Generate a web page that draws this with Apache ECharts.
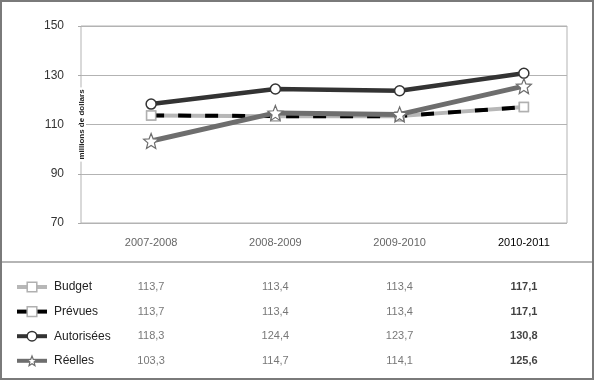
<!DOCTYPE html>
<html><head><meta charset="utf-8">
<script src="https://cdn.jsdelivr.net/npm/echarts@6/dist/echarts.min.js"></script>
<style>html,body{margin:0;padding:0;background:#fff}#c{width:595px;height:381px}</style>
</head><body><div id="c"></div>
<script>
// ---- data ----
const categories = ['2007-2008', '2008-2009', '2009-2010', '2010-2011'];
const seriesNames = ['Budget', 'Prévues', 'Autorisées', 'Réelles'];
const budget = [113.7, 113.4, 113.4, 117.1];
const prevues = [113.7, 113.4, 113.4, 117.1];
const autorisees = [118.3, 124.4, 123.7, 130.8];
const reelles = [103.3, 114.7, 114.1, 125.6];
const yMin = 70, yMax = 150, yStep = 20;
const yName = 'millions de dollars';

// ---- build ----
const FONT = '"Liberation Sans", Arial, sans-serif';
const STAR = 'path://M50,0L62.9,32.2L97.6,34.5L70.9,56.8L79.4,90.5L50,72L20.6,90.5L29.1,56.8L2.4,34.5L37.1,32.2Z';
const rows = [budget, prevues, autorisees, reelles];
const tableData = [];
rows.forEach((r, ri) => r.forEach((v, ci) => tableData.push([ci, ri, v])));
const fmt = v => v.toFixed(1).replace('.', ',');

const styles = [
  {symbol: 'rect', size: 9, line: {color: '#b7b7b7', width: 4, type: 'solid'}, item: {color: '#fff', borderColor: '#b0b0b0', borderWidth: 1.5}},
  {symbol: 'rect', size: 9, line: {color: '#000', width: 4, type: [13, 14]}, item: {color: '#fff', borderColor: '#b0b0b0', borderWidth: 1.5}},
  {symbol: 'circle', size: 10, line: {color: '#333', width: 4.5, type: 'solid'}, item: {color: '#fff', borderColor: '#333', borderWidth: 1.5}},
  {symbol: STAR, size: 15, line: {color: '#6e6e6e', width: 5, type: 'solid'}, item: {color: '#fff', borderColor: '#6e6e6e', borderWidth: 1.2}}
];
const lineSeries = rows.map((r, i) => ({
  name: seriesNames[i], type: 'line', xAxisIndex: 0, yAxisIndex: 0, data: r,
  symbol: styles[i].symbol, symbolSize: styles[i].size, showAllSymbol: true,
  lineStyle: styles[i].line, itemStyle: styles[i].item, z: 2 + i
}));
const legendData = seriesNames.map((n, i) => ({
  name: n,
  itemStyle: styles[i].item,
  lineStyle: {color: styles[i].line.color, width: 4, type: 'solid'}
}));

const chart = echarts.init(document.getElementById('c'), null, {renderer: 'canvas'});
chart.setOption({
  animation: false,
  textStyle: {fontFamily: FONT},
  graphic: [
    {type: 'rect', shape: {x: 1, y: 1, width: 592, height: 378}, style: {fill: 'none', stroke: '#7a7a7a', lineWidth: 2}, z: 100},
    {type: 'line', shape: {x1: 2, y1: 262, x2: 592, y2: 262}, style: {stroke: '#b5b5b5', lineWidth: 2}, z: 100}
  ],
  grid: [
    {left: 89, right: 9, top: 26, height: 197},
    {left: 81, right: 28, top: 26, height: 197, show: true, borderColor: '#b3b3b3', borderWidth: 1},
    {left: 89, right: 9, top: 275, height: 98}
  ],
  xAxis: [
    {gridIndex: 0, type: 'category', data: categories, boundaryGap: true,
     axisLine: {show: false}, axisTick: {show: false}, splitLine: {show: false},
     axisLabel: {margin: 14, fontSize: 11, fontFamily: FONT, color: (v, i) => (i === 3 ? '#000' : '#666')}},
    {gridIndex: 1, type: 'value', show: false},
    {gridIndex: 2, type: 'category', data: categories, show: false}
  ],
  yAxis: [
    {gridIndex: 0, type: 'value', min: yMin, max: yMax, show: false},
    {gridIndex: 1, type: 'value', min: yMin, max: yMax, interval: yStep,
     name: yName, nameLocation: 'middle', nameGap: -5, nameRotate: 90, nameMoveOverlap: false,
     nameTextStyle: {fontSize: 8, fontWeight: 'bold', color: '#222', backgroundColor: '#fff', padding: [0, 2], fontFamily: FONT},
     axisLine: {show: false}, axisTick: {show: true, length: 3, lineStyle: {color: '#aaa'}},
     axisLabel: {margin: 17, fontSize: 12, color: '#333', fontFamily: FONT},
     splitLine: {lineStyle: {color: '#b3b3b3', width: 1}}},
    {gridIndex: 2, type: 'category', data: seriesNames, inverse: true, show: false}
  ],
  legend: {
    orient: 'vertical', left: 15, top: 281, padding: 0, itemWidth: 30, itemHeight: 12, itemGap: 12.6,
    selectedMode: false,
    textStyle: {fontSize: 12, color: '#222', lineHeight: 12, padding: [0, 0, 0, 2], fontFamily: FONT},
    data: legendData
  },
  series: lineSeries.concat([{
    type: 'scatter', name: 'table', xAxisIndex: 2, yAxisIndex: 2, data: tableData,
    symbolSize: 1, itemStyle: {color: 'rgba(0,0,0,0)'}, silent: true,
    label: {show: true, position: 'inside', fontSize: 11, color: '#555', fontFamily: FONT,
      formatter: p => (p.data[0] === 3 ? '{b|' + fmt(p.data[2]) + '}' : fmt(p.data[2])),
      rich: {b: {fontWeight: 'bold', color: '#111', fontSize: 11, fontFamily: FONT}}}
  }])
});
</script></body></html>
